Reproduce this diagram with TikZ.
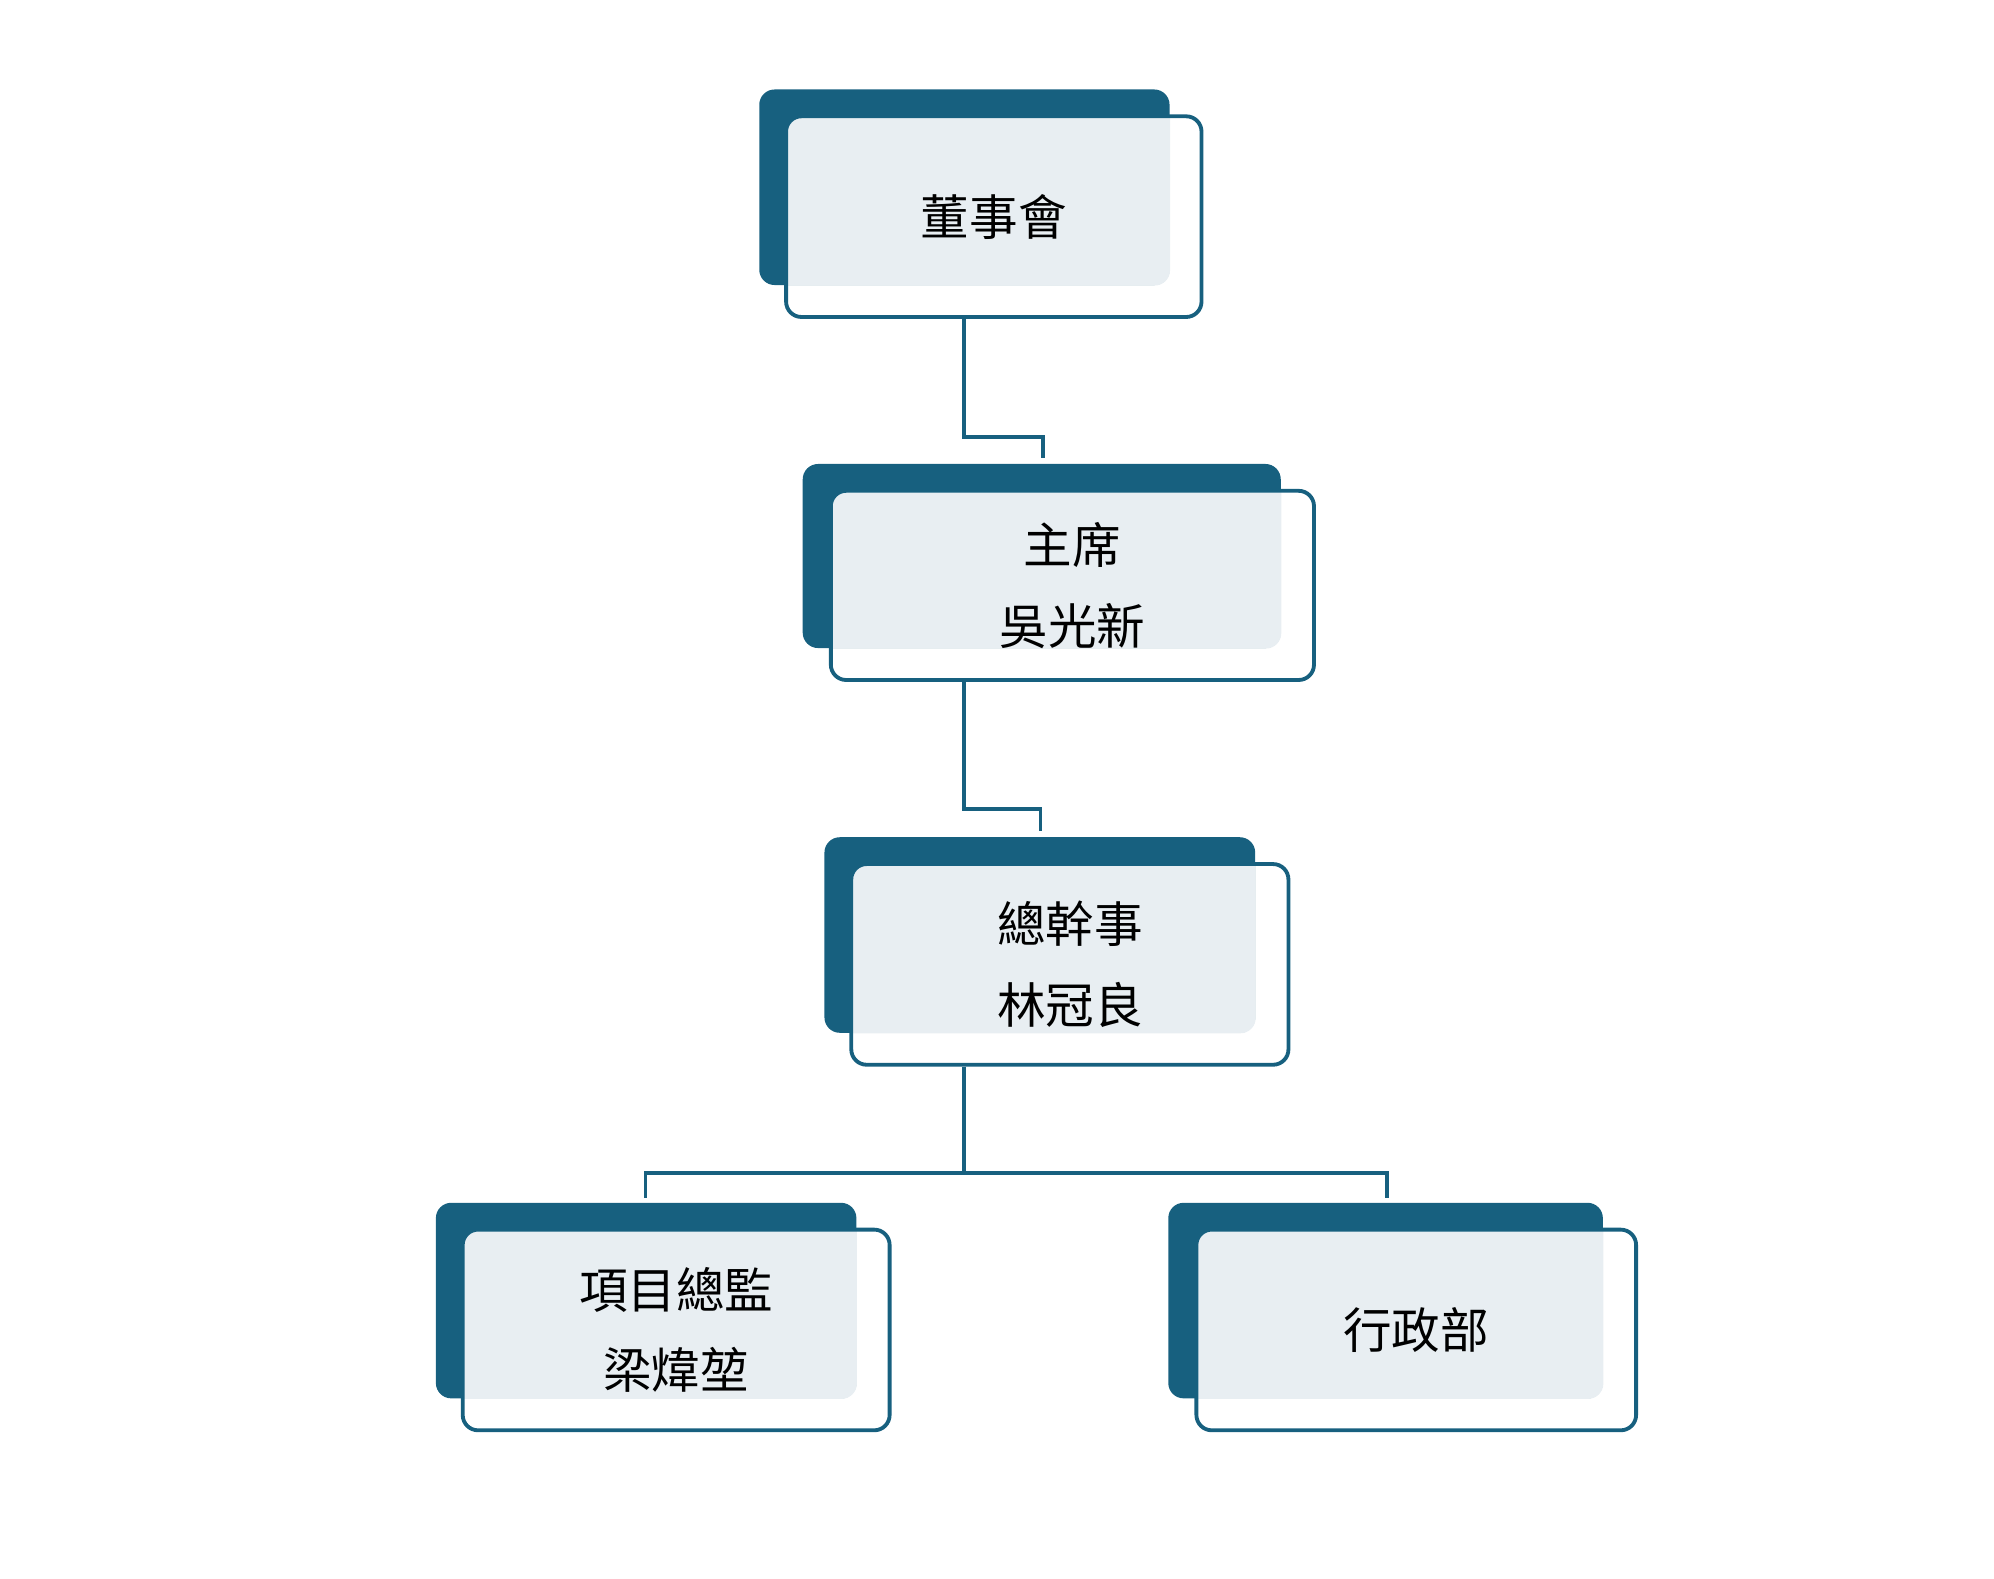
\documentclass[tikz,border=0pt]{standalone}
\usepackage{fontspec}
\usetikzlibrary{calc}
\newfontfamily\cjk{Noto Sans CJK TC}
\definecolor{deep}{HTML}{17607F}
\definecolor{pale}{HTML}{E8EEF2}
\tikzstyle{back}=[fill=deep,rounded corners=6pt,inner sep=0pt]
\tikzstyle{front}=[draw=deep,line width=1.5pt,rounded corners=6pt,inner sep=0pt,align=center,font=\cjk\fontsize{19}{31.5}\selectfont]
\tikzstyle{link}=[draw=deep,line width=1.5pt]

\begin{document}
\begin{tikzpicture}[x=0.5pt,y=-0.5pt]
		\useasboundingbox (0,0) rectangle (1560,1235);
		\node [back,minimum width=160.5pt,minimum height=76.5pt] (d1) at (754.5,146.5) {};
		\node [back,minimum width=187pt,minimum height=72pt]     (d2) at (815,435)     {};
		\node [back,minimum width=168.5pt,minimum height=76.5pt] (d3) at (813.5,731.5) {};
		\node [back,minimum width=164.5pt,minimum height=76.5pt] (d4) at (505.5,1017.5) {};
		\node [back,minimum width=170pt,minimum height=76.5pt]   (d5) at (1084,1017.5) {};
		\coordinate (c1) at (777.5,169.5);
		\coordinate (c2) at (839,458);
		\coordinate (c3) at (837,754.5);
		\coordinate (c4) at (529,1040.5);
		\coordinate (c5) at (1108,1040.5);

		% pale part where front box overlaps back box
		\foreach \i/\w/\h in {1/162.5/78.5, 2/189/74, 3/171/78.5, 4/167/78.5, 5/172/78.5}{
			\begin{scope}
				\clip [rounded corners=6pt] (d\i.south west) rectangle (d\i.north east);
				\fill [pale,rounded corners=6pt] ($(c\i)+(-\w,-\h)$) rectangle ($(c\i)+(\w,\h)$);
			\end{scope}
		}

		\node [front,minimum width=162.5pt,minimum height=78.5pt] (b1) at (c1) {董事會};
		\node [front,minimum width=189pt,minimum height=74pt]     (b2) at (c2) {主席\\吳光新};
		\node [front,minimum width=171pt,minimum height=78.5pt]   (b3) at (c3) {總幹事\\林冠良};
		\node [front,minimum width=167pt,minimum height=78.5pt]   (b4) at (c4) {項目總監\\梁煒堃};
		\node [front,minimum width=172pt,minimum height=78.5pt]   (b5) at (c5) {行政部};

		\coordinate (j1) at (754,342);
		\coordinate (j2) at (754,633);
		\coordinate (j3) at (754,918);

		\draw [link] (b1.south -| j1) -- (j1) -| (816,358);
		\draw [link] (b2.south -| j2) -- (j2) -| (814,650);
		\draw [link] (b3.south -| j3) -- (j3);
		\draw [link] (505,937) |- (j3) -| (1085,937);
	\end{tikzpicture}
\end{document}
